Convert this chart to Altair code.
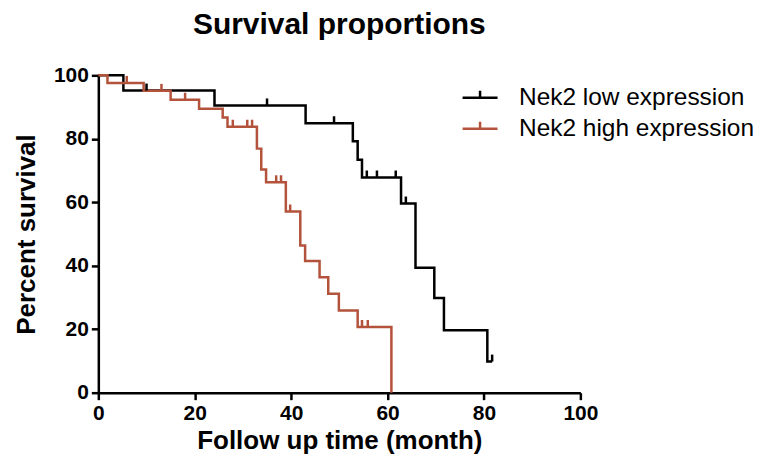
import altair as alt
import pandas as pd

# ---- data ----
low_name = "Nek2 low expression"
high_name = "Nek2 high expression"

low_t = [0, 5.2, 24.1, 43.0, 52.8, 53.8, 54.7, 62.8, 65.8, 69.7, 71.7, 80.7, 81.7]
low_s = [100, 95.2, 90.5, 84.9, 79.2, 73.4, 67.8, 59.6, 39.4, 29.8, 19.7, 9.8, 9.8]

high_t = [0, 1.9, 9.4, 15.0, 20.9, 25.8, 26.8, 32.9, 33.8, 34.8, 38.9, 41.9, 42.9, 45.9, 47.7, 49.9, 53.8, 60.8]
high_s = [100, 97.6, 95.1, 92.3, 89.5, 86.7, 83.8, 76.9, 70.3, 66.3, 57.1, 46.4, 41.5, 36.4, 31.2, 25.9, 20.7, 0]

low_cens_t = [10.0, 35.0, 48.9, 55.7, 57.8, 61.7, 63.8, 81.7]
low_cens_s = [95.2, 90.5, 84.9, 67.8, 67.8, 67.8, 59.6, 9.8]

high_cens_t = [5.9, 13.1, 18.0, 27.9, 30.9, 31.9, 36.9, 37.9, 39.8, 54.7, 55.9]
high_cens_s = [97.6, 95.1, 92.3, 83.8, 83.8, 83.8, 66.3, 66.3, 57.1, 20.7, 20.7]

axis_ticks = [0, 20, 40, 60, 80, 100]

BLACK = "#000000"
RED = "#B4533C"
FONT = "Liberation Sans"

lines = pd.concat([
    pd.DataFrame({"t": low_t, "s": low_s, "group": low_name}),
    pd.DataFrame({"t": high_t, "s": high_s, "group": high_name}),
])
cens_low = pd.DataFrame({"t": low_cens_t, "s": low_cens_s})
cens_high = pd.DataFrame({"t": high_cens_t, "s": high_cens_s})

x_enc = alt.X("t:Q", scale=alt.Scale(domain=[0, 100], nice=False),
              axis=alt.Axis(values=axis_ticks, title="Follow up time (month)",
                            labelFlush=False))
y_enc = alt.Y("s:Q", scale=alt.Scale(domain=[0, 100], nice=False),
              axis=alt.Axis(values=axis_ticks, title="Percent survival",
                            labelFlush=False))

line_layer = alt.Chart(lines).mark_line(
    interpolate="step-after", strokeWidth=2.5, strokeJoin="miter"
).encode(
    x=x_enc,
    y=y_enc,
    color=alt.Color(
        "group:N",
        scale=alt.Scale(domain=[low_name, high_name], range=[BLACK, RED]),
        legend=alt.Legend(
            orient="none", legendX=363.5, legendY=3.5, title=None,
            symbolType="M-1,0L1,0M0,0L0,-0.4", symbolSize=1225,
            symbolStrokeWidth=2.5, labelFontSize=24.5, labelFont=FONT,
            labelColor="black", labelOffset=20, rowPadding=0, padding=0,
            labelLimit=400,
        ),
    ),
    order="t:Q",
)

tick_shape = "M0,0L0,-1"
cl = alt.Chart(cens_low).mark_point(
    shape=tick_shape, size=196, strokeWidth=2.5, filled=False, color=BLACK, opacity=1
).encode(x="t:Q", y="s:Q")
ch = alt.Chart(cens_high).mark_point(
    shape=tick_shape, size=196, strokeWidth=2.5, filled=False, color=RED, opacity=1
).encode(x="t:Q", y="s:Q")

chart = alt.layer(line_layer, cl, ch).properties(
    width=483, height=318,
    autosize="none",
    padding={"left": 90.5, "top": 67, "right": 180, "bottom": 62},
    title=alt.TitleParams("Survival proportions", fontSize=30, font=FONT,
                          fontWeight="bold", anchor="middle", offset=24, color="black"),
).configure_view(stroke=None).configure_axis(
    grid=False,
    domainColor="black", domainWidth=2.5,
    tickColor="black", tickWidth=2.5, tickSize=7,
    labelFont=FONT, labelFontSize=21, labelFontWeight="bold", labelColor="black",
    labelPadding=3,
    titleFont=FONT, titleFontSize=26, titleFontWeight="bold", titleColor="black",
).configure_axisX(titlePadding=4).configure_axisY(titlePadding=14)

chart.save("out.html", embed_options={"renderer": "svg", "actions": False})
